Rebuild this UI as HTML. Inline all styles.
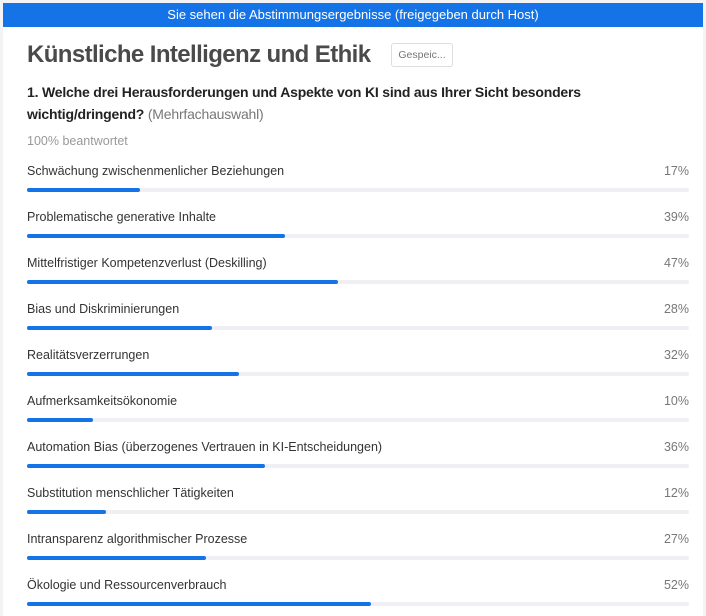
<!DOCTYPE html>
<html><head><meta charset="utf-8"><style>
html,body{margin:0;padding:0;width:706px;height:616px;overflow:hidden;background:#f3f3f5;font-family:"Liberation Sans",sans-serif;}
.card{position:absolute;left:3px;top:3px;width:700px;height:613px;background:#fff;}
.banner{position:absolute;left:0;top:0;width:700px;height:24px;background:#1473e6;color:#fff;font-size:13px;line-height:24px;text-align:center;}
.title{position:absolute;left:24px;top:38px;font-size:24px;font-weight:bold;color:#4a4a4a;letter-spacing:-0.6px;}
.badge{position:absolute;left:388px;top:40px;width:60px;height:22px;border:1px solid #ddd;border-radius:3px;font-size:10.5px;color:#777;line-height:22px;text-align:center;}
.q{position:absolute;left:24px;top:78px;width:600px;font-size:14px;font-weight:bold;color:#222;line-height:22px;letter-spacing:-0.2px;}
.q span{font-weight:normal;color:#777;}
.ans{position:absolute;left:24px;top:131px;font-size:12.5px;color:#999;}
.row{position:absolute;left:24px;width:662px;}
.lab{position:absolute;left:0;top:1px;font-size:12.5px;color:#333;white-space:nowrap;}
.pct{position:absolute;right:0;top:1px;font-size:12.5px;color:#777;}
.track{position:absolute;left:0;top:25px;width:662px;height:4px;background:#f0f0f4;border-radius:2px;}
.fill{height:4px;background:#1473e6;border-radius:2px;}
</style></head><body>
<div class="card">
<div class="banner">Sie sehen die Abstimmungsergebnisse (freigegeben durch Host)</div>
<div class="title">Künstliche Intelligenz und Ethik</div>
<div class="badge">Gespeic...</div>
<div class="q">1. Welche drei Herausforderungen und Aspekte von KI sind aus Ihrer Sicht besonders wichtig/dringend? <span>(Mehrfachauswahl)</span></div>
<div class="ans">100% beantwortet</div>
<div class="row" style="top:160px"><div class="lab">Schwächung zwischenmenlicher Beziehungen</div><div class="pct">17%</div><div class="track"><div class="fill" style="width:113px"></div></div></div>
<div class="row" style="top:206px"><div class="lab">Problematische generative Inhalte</div><div class="pct">39%</div><div class="track"><div class="fill" style="width:258px"></div></div></div>
<div class="row" style="top:252px"><div class="lab">Mittelfristiger Kompetenzverlust (Deskilling)</div><div class="pct">47%</div><div class="track"><div class="fill" style="width:311px"></div></div></div>
<div class="row" style="top:298px"><div class="lab">Bias und Diskriminierungen</div><div class="pct">28%</div><div class="track"><div class="fill" style="width:185px"></div></div></div>
<div class="row" style="top:344px"><div class="lab">Realitätsverzerrungen</div><div class="pct">32%</div><div class="track"><div class="fill" style="width:212px"></div></div></div>
<div class="row" style="top:390px"><div class="lab">Aufmerksamkeitsökonomie</div><div class="pct">10%</div><div class="track"><div class="fill" style="width:66px"></div></div></div>
<div class="row" style="top:436px"><div class="lab">Automation Bias (überzogenes Vertrauen in KI-Entscheidungen)</div><div class="pct">36%</div><div class="track"><div class="fill" style="width:238px"></div></div></div>
<div class="row" style="top:482px"><div class="lab">Substitution menschlicher Tätigkeiten</div><div class="pct">12%</div><div class="track"><div class="fill" style="width:79px"></div></div></div>
<div class="row" style="top:528px"><div class="lab">Intransparenz algorithmischer Prozesse</div><div class="pct">27%</div><div class="track"><div class="fill" style="width:179px"></div></div></div>
<div class="row" style="top:574px"><div class="lab">Ökologie und Ressourcenverbrauch</div><div class="pct">52%</div><div class="track"><div class="fill" style="width:344px"></div></div></div>
</div>
</body></html>
